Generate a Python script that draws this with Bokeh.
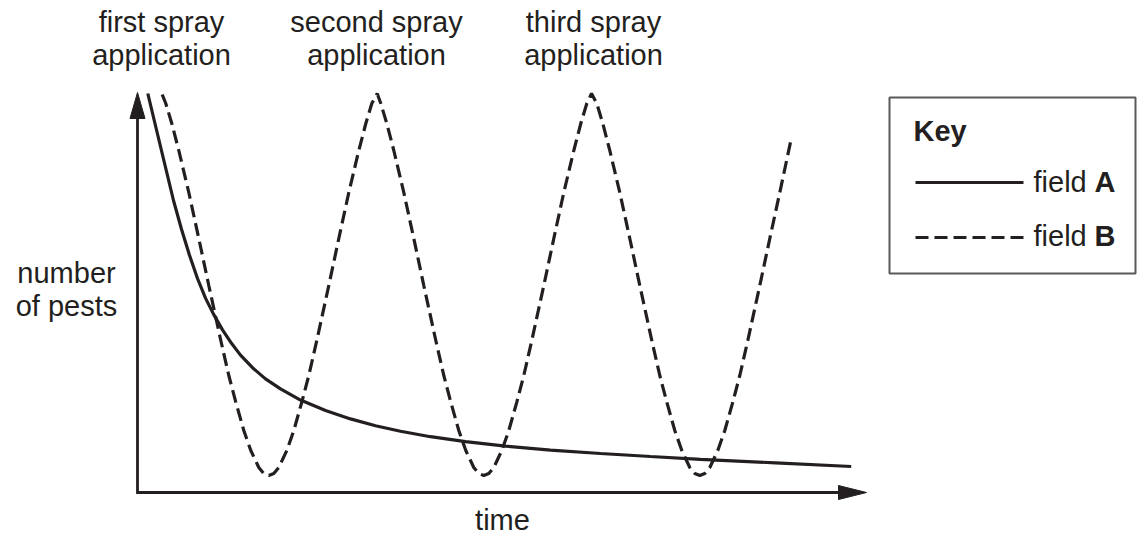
from bokeh.plotting import figure
from bokeh.models import Range1d
from bokeh.core.properties import value
from bokeh.embed import file_html
from bokeh.resources import INLINE

# ---------------- data (arbitrary units) ----------------
# time runs 0 .. 72.9 along the axis, number of pests 0 .. 100 up the axis
field_a_time = [1.03, 2.3, 3.6, 4.4, 5.2, 6.0, 6.8, 7.6, 8.5, 9.4, 10.3, 11.5, 12.8, 14.3,
                16.3, 18.8, 21.3, 23.8, 26.3, 29.3, 32.8, 36.8, 41.3, 46.3, 51.3, 56.3,
                63.8, 71.37]
field_a_pests = [99.75, 86.5, 73.0, 65.8, 59.3, 53.5, 48.6, 44.6, 40.65, 37.3, 34.35, 31.2,
                 28.4, 25.9, 23.1, 20.5, 18.4, 16.7, 15.3, 13.95, 12.7, 11.6, 10.6, 9.75,
                 9.0, 8.3, 7.4, 6.5]

field_b_time = [2.47, 2.83, 3.43, 4.13, 5.13, 6.13, 7.13, 8.33, 9.13, 9.83, 10.63, 11.33, 12.13,
                12.63, 13.13, 13.63,
                14.13, 14.93, 15.63, 16.43, 17.13, 17.93, 19.13, 20.13, 21.13, 22.13, 22.83, 23.43,
                23.97,
                24.33, 24.93, 25.63, 26.63, 27.63, 28.63, 29.83, 30.63, 31.33, 32.13, 32.83, 33.63,
                34.13, 34.63, 35.13,
                35.63, 36.43, 37.13, 37.93, 38.63, 39.43, 40.63, 41.63, 42.63, 43.63, 44.33, 44.93,
                45.4,
                45.93, 46.53, 47.23, 48.23, 49.23, 50.23, 51.43, 52.23, 52.93, 53.73, 54.43, 55.23,
                55.73, 56.23, 56.73,
                57.23, 58.03, 58.73, 59.53, 60.23, 61.03, 62.23, 63.23, 64.23, 65.37]
field_b_pests = [99.5, 97.25, 92.25, 85.5, 75.0, 63.5, 51.75, 38.0, 29.25, 22.6, 15.5, 10.5, 6.25,
                 4.75, 4.25, 4.75,
                 6.25, 10.5, 15.5, 22.6, 29.25, 38.0, 51.75, 63.5, 75.0, 85.5, 92.25, 97.25,
                 99.75,
                 97.25, 92.25, 85.5, 75.0, 63.5, 51.75, 38.0, 29.25, 22.6, 15.5, 10.5, 6.25,
                 4.75, 4.25, 4.75,
                 6.25, 10.5, 15.5, 22.6, 29.25, 38.0, 51.75, 63.5, 75.0, 85.5, 92.25, 97.25,
                 99.75,
                 97.25, 92.25, 85.5, 75.0, 63.5, 51.75, 38.0, 29.25, 22.6, 15.5, 10.5, 6.25,
                 4.75, 4.25, 4.75,
                 6.25, 10.5, 15.5, 22.6, 29.25, 38.0, 51.75, 63.5, 75.0, 88.4]

spray_times = [2.4, 23.9, 45.6]
spray_line1 = ["first spray", "second spray", "third spray"]
spray_line2 = ["application", "application", "application"]

time_max = 72.9
pests_max = 100.0

y_label_lines = ["number", "of pests"]
x_label = "time"
key_title = "Key"
key_names = ["field ", "field "]
key_letters = ["A", "B"]

# ---------------- layout (picture pixels) ----------------
W, H = 1137, 534
X0_PX, XS = 137.0, 10.0   # pixel of time 0, pixels per time unit
Y0_PX, YS = 492.0, 4.0    # pixel of pests 0, pixels per pests unit


def dx(px):
    return (px - X0_PX) / XS


def dy(py):
    return (Y0_PX - py) / YS


INK = "#231f20"
FONT = value("Liberation Sans")
FS = "29px"

p = figure(width=W, height=H, output_backend="svg", toolbar_location=None,
           x_axis_type=None, y_axis_type=None,
           x_range=Range1d(dx(0), dx(W)),
           y_range=Range1d(dy(H), dy(0)),
           min_border=0, outline_line_color=None, background_fill_color="white")
p.grid.visible = False

# axes with arrow heads
head_x_len, head_x_half = 28 / XS, 7 / YS
head_y_len, head_y_half = 26 / YS, 7.5 / XS
p.line([0, 0, time_max - head_x_len + 0.3], [pests_max - head_y_len + 0.5, 0, 0],
       line_color=INK, line_width=2.8, line_join="miter")
p.patch([time_max, time_max - head_x_len, time_max - head_x_len],
        [0, head_x_half, -head_x_half], fill_color=INK, line_color=INK, line_width=1)
p.patch([0, head_y_half, -head_y_half],
        [pests_max, pests_max - head_y_len, pests_max - head_y_len],
        fill_color=INK, line_color=INK, line_width=1)

# curves
p.line(field_a_time, field_a_pests, line_color=INK, line_width=3.2)
p.line(field_b_time, field_b_pests, line_color=INK, line_width=3.2, line_dash="13 6")

# spray labels
p.text(x=spray_times, y=[dy(21)] * 3, text=spray_line1, text_font=FONT, text_font_size=FS,
       text_color=INK, text_align="center", text_baseline="alphabetic")
p.text(x=spray_times, y=[dy(54)] * 3, text=spray_line2, text_font=FONT, text_font_size=FS,
       text_color=INK, text_align="center", text_baseline="alphabetic")

# axis titles
p.text(x=[dx(66)] * 2, y=[dy(272), dy(305)], text=y_label_lines, text_font=FONT,
       text_font_size=FS, text_color=INK, text_align="center", text_baseline="alphabetic")
p.text(x=[time_max / 2 + 0.05], y=[dy(519)], text=[x_label], text_font=FONT, text_font_size=FS,
       text_color=INK, text_align="center", text_baseline="alphabetic")

# key box
bl, br, bt, bb = 889, 1135, 97, 273
p.quad(left=[dx(bl)], right=[dx(br)], top=[dy(bt)], bottom=[dy(bb)],
       fill_color="white", line_color="#58595b", line_width=2)
p.text(x=[dx(913)], y=[dy(130)], text=[key_title], text_font=FONT, text_font_size=FS,
       text_font_style="bold", text_color=INK, text_align="left", text_baseline="alphabetic")
p.line([dx(915), dx(1023)], [dy(182), dy(182)], line_color=INK, line_width=3.0)
p.line([dx(915), dx(1023)], [dy(237), dy(237)], line_color=INK, line_width=3.0, line_dash="13 6")
p.text(x=[dx(1033)] * 2, y=[dy(181), dy(235)], text=key_names, text_font=FONT, text_font_size=FS,
       text_color=INK, text_align="left", text_baseline="alphabetic")
p.text(x=[dx(1094)] * 2, y=[dy(181), dy(235)], text=key_letters, text_font=FONT, text_font_size=FS,
       text_font_style="bold", text_color=INK, text_align="left", text_baseline="alphabetic")

open("out.html", "w").write(file_html(p, INLINE))
